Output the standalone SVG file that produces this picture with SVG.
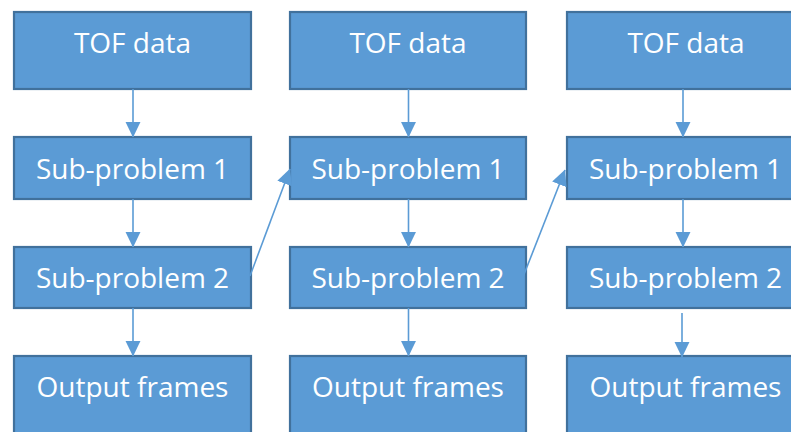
<svg xmlns="http://www.w3.org/2000/svg" width="791" height="432" viewBox="0 0 791 432">
  <style>
    .box { fill: #5B9BD5; stroke: #41719C; stroke-width: 2.2; }
    .lbl { fill: #FFFFFF; font-family: "Open Sans", "Liberation Sans", sans-serif; font-size: 28px; text-anchor: middle; }
    .conn { stroke: #5B9BD5; stroke-width: 1.6; fill: none; marker-end: url(#arrow); }
  </style>
  <defs>
    <marker id="arrow" markerUnits="userSpaceOnUse" markerWidth="16" markerHeight="16" viewBox="0 0 16 16" refX="15.5" refY="8" orient="auto">
      <path d="M0,0.3 L16,8 L0,15.7 z" fill="#5B9BD5"/>
    </marker>
  </defs>
  <rect width="791" height="432" fill="#FFFFFF"/>

  <!-- column 1 -->
  <g id="tof1"><rect class="box" x="14" y="12" width="237" height="77"/><text class="lbl" x="132.5" y="53">TOF data</text></g>
  <g id="sub1a"><rect class="box" x="14" y="137" width="237" height="62"/><text class="lbl" x="132.5" y="179">Sub-problem 1</text></g>
  <g id="sub2a"><rect class="box" x="14" y="247" width="237" height="61"/><text class="lbl" x="132.5" y="288">Sub-problem 2</text></g>
  <g id="out1"><rect class="box" x="14" y="356" width="237" height="90"/><text class="lbl" x="132.5" y="397">Output frames</text></g>

  <!-- column 2 -->
  <g id="tof2"><rect class="box" x="290" y="12" width="236" height="77"/><text class="lbl" x="408" y="53">TOF data</text></g>
  <g id="sub1b"><rect class="box" x="290" y="137" width="236" height="62"/><text class="lbl" x="408" y="179">Sub-problem 1</text></g>
  <g id="sub2b"><rect class="box" x="290" y="247" width="236" height="61"/><text class="lbl" x="408" y="288">Sub-problem 2</text></g>
  <g id="out2"><rect class="box" x="290" y="356" width="236" height="90"/><text class="lbl" x="408" y="397">Output frames</text></g>

  <!-- column 3 -->
  <g id="tof3"><rect class="box" x="567" y="12" width="237" height="77"/><text class="lbl" x="686" y="53">TOF data</text></g>
  <g id="sub1c"><rect class="box" x="567" y="137" width="237" height="62"/><text class="lbl" x="685.5" y="179">Sub-problem 1</text></g>
  <g id="sub2c"><rect class="box" x="567" y="247" width="237" height="61"/><text class="lbl" x="685.5" y="288">Sub-problem 2</text></g>
  <g id="out3"><rect class="box" x="567" y="356" width="237" height="90"/><text class="lbl" x="685.5" y="397">Output frames</text></g>

  <!-- connectors -->
  <g id="connectors">
    <line class="conn" x1="133" y1="89" x2="133" y2="137"/>
    <line class="conn" x1="133" y1="199" x2="133" y2="247"/>
    <line class="conn" x1="133" y1="308" x2="133" y2="356"/>

    <line class="conn" x1="408.5" y1="89" x2="408.5" y2="137"/>
    <line class="conn" x1="408.5" y1="199" x2="408.5" y2="247"/>
    <line class="conn" x1="408.5" y1="308" x2="408.5" y2="356"/>

    <line class="conn" x1="683" y1="89" x2="683" y2="137"/>
    <line class="conn" x1="683" y1="199" x2="683" y2="247"/>
    <line class="conn" x1="682" y1="313" x2="682" y2="357"/>

    <line class="conn" x1="250" y1="276" x2="290" y2="169"/>
    <line class="conn" x1="523" y1="277" x2="565" y2="170"/>
  </g>
</svg>
